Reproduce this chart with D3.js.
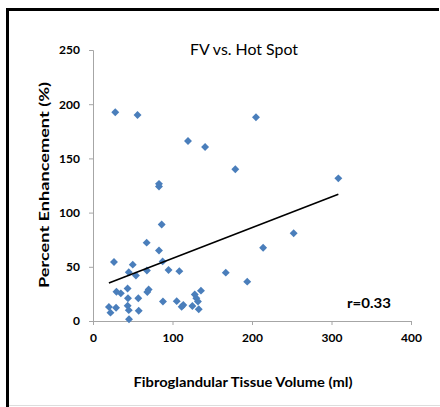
<!DOCTYPE html>
<html><head><meta charset="utf-8">
<script src="https://cdn.jsdelivr.net/npm/d3@7"></script>
<style>body{margin:0;background:#fff}svg{display:block}</style>
</head><body>
<svg id="c" width="440" height="407"></svg>
<script>
const xVals = [28,56,119.5,141,179,83,83,86.4,205,308.6,252.4,214,167,194,135.8,128,130,132,125,133,67.5,83,26.4,50,87.6,45,54,67.8,95,108.6,29.5,35,43.5,70,68.3,44,57,20,22,29,43.6,45,57.5,45.3,88,105.3,113.6,111.5];
const yVals = [192.5,190,166,160.5,140,124,126.5,89,188,131.6,81,67.6,44.6,36.3,28,24.5,21,18,13.8,10.8,72.3,65,54.4,52,55,45,42,46.6,47,46,27,25.5,30,29,26.8,21,21,13,7.7,12.3,14,10,9.5,1.6,18,18.3,14.8,13.2];
const xTicks = [0,100,200,300,400];
const yTicks = [0,50,100,150,200,250];
const fitLine = {x1:20, x2:308.6, intercept:29.3, slope:0.284};
const title = "FV vs. Hot Spot";
const xTitle = "Fibroglandular Tissue Volume (ml)";
const yTitle = "Percent Enhancement (%)";
const rLabel = "r=0.33";

const svg = d3.select("#c");
const font = "Lato, 'Open Sans', sans-serif";
// frame
svg.append("rect").attr("x",0).attr("y",0).attr("width",440).attr("height",407).attr("fill","#fff");
svg.append("line").attr("x1",7.5).attr("x2",7.5).attr("y1",8).attr("y2",407).attr("stroke","#000").attr("stroke-width",3);
svg.append("line").attr("x1",6).attr("x2",439).attr("y1",9.5).attr("y2",9.5).attr("stroke","#000").attr("stroke-width",3);
svg.append("line").attr("x1",9).attr("x2",440).attr("y1",405.5).attr("y2",405.5).attr("stroke","#ddd").attr("stroke-width",1);

const x = d3.scaleLinear().domain([0,400]).range([93,411]);
const y = d3.scaleLinear().domain([0,250]).range([321,50]);

const gx = svg.append("g").attr("transform","translate(0,321)")
  .call(d3.axisBottom(x).tickValues(xTicks).tickSize(4).tickPadding(8));
const gy = svg.append("g").attr("transform","translate(93,0)")
  .call(d3.axisLeft(y).tickValues(yTicks).tickSize(4).tickPadding(9));
[gx,gy].forEach(g=>{
  g.select(".domain").attr("stroke","#a6a6a6");
  g.selectAll(".tick line").attr("stroke","#a6a6a6");
  g.selectAll("text").attr("font-family",font).attr("font-weight","bold").attr("font-size",12).attr("fill","#000");
});

// points
const diamond = d3.symbol().type(d3.symbolDiamond2).size(40);
svg.append("g").selectAll("path").data(xVals.map((v,i)=>[v,yVals[i]])).join("path")
  .attr("d",diamond).attr("transform",d=>`translate(${x(d[0])},${y(d[1])})`)
  .attr("fill","#4a7ebb");

// fit line
svg.append("line")
  .attr("x1",x(fitLine.x1)).attr("y1",y(fitLine.intercept+fitLine.slope*fitLine.x1))
  .attr("x2",x(fitLine.x2)).attr("y2",y(fitLine.intercept+fitLine.slope*fitLine.x2))
  .attr("stroke","#000").attr("stroke-width",1.6);

svg.append("text").attr("x",244).attr("y",55).attr("text-anchor","middle")
  .attr("font-family",font).attr("font-size",16).attr("textLength",108).attr("lengthAdjust","spacingAndGlyphs")
  .attr("fill","#000").text(title);
svg.append("text").attr("x",243).attr("y",387).attr("text-anchor","middle")
  .attr("font-family",font).attr("font-weight","bold").attr("font-size",14)
  .attr("textLength",219).attr("lengthAdjust","spacingAndGlyphs").attr("fill","#000").text(xTitle);
svg.append("text").attr("transform","translate(49,185) rotate(-90)").attr("text-anchor","middle")
  .attr("font-family",font).attr("font-weight","bold").attr("font-size",14)
  .attr("textLength",206).attr("lengthAdjust","spacingAndGlyphs").attr("fill","#000").text(yTitle);
svg.append("text").attr("x",347).attr("y",308)
  .attr("font-family",font).attr("font-weight","bold").attr("font-size",13)
  .attr("textLength",44).attr("lengthAdjust","spacingAndGlyphs").attr("fill","#000").text(rLabel);
</script>
</body></html>
